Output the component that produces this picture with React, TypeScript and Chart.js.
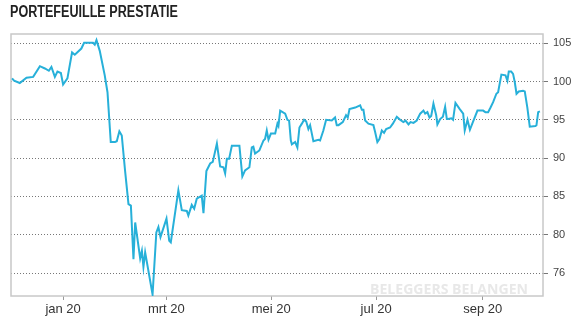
import React, { useEffect, useRef } from "react";
import { Chart, registerables } from "chart.js";

Chart.register(...registerables);

const titleText = "PORTEFEUILLE PRESTATIE";
const watermarkText = "BELEGGERS BELANGEN";

// x = days since 1 Jan 2020
const days = [
  -29.7, -28.5, -25.2, -21.3, -17.4, -13.5, -10.6, -8.3, -6.8, -4.8, -3.3, -1.3, 0, 2.5, 5.2, 6.8, 10.6, 12.2, 17.4, 18.4,
  19.4, 21.3, 24.2, 25.8, 27.7, 30.2, 31.2, 32.7, 34.1, 36.0, 38.0, 39.4, 40.9, 41.9, 44.8, 45.8, 46.7, 47.7, 52.0, 54.2,
  55.4, 56.6, 60.1, 61.7, 62.6, 67.0, 69.0, 71.9, 72.8, 74.8, 76.2, 77.7, 80.6, 81.6, 83.3, 85.5, 87.0, 89.4, 91.3, 93.2,
  94.2, 95.2, 96.5, 98.1, 102.5, 104.2, 105.8, 108.3, 109.7, 110.6, 111.6, 114.1, 116.5, 117.4, 118.4, 119.4, 120.8, 123.3, 124.6, 125.2,
  126.2, 129.1, 130.4, 131.4, 132.4, 133.0, 134.9, 136.2, 137.4, 138.8, 140.1, 141.3, 142.6, 143.6, 145.5, 148.4, 149.4, 151.3, 152.9, 156.2,
  158.1, 159.1, 160.1, 162.6, 164.5, 165.5, 166.5, 169.8, 172.7, 173.7, 174.6, 175.6, 177.5, 180.4, 181.4, 182.7, 183.9, 185.3, 186.6, 187.8,
  190.1, 191.7, 194.0, 195.9, 197.8, 199.1, 200.8, 202.0, 203.7, 205.6, 207.6, 209.5, 210.5, 211.8, 213.0, 214.0, 215.3, 216.9, 217.6, 219.2,
  220.8, 222.1, 223.1, 223.8, 225.7, 226.7, 228.1, 230.6, 232.6, 233.5, 235.1, 236.5, 238.4, 240.9, 244.2, 245.5, 247.1, 248.5, 250.0, 251.9,
  252.9, 254.8, 257.2, 258.3, 259.1, 260.5, 261.6, 262.6, 263.6, 264.9, 267.4, 268.4, 269.9, 271.3, 274.6, 275.2, 276.2, 277.2,
];

const values = [
  100.4, 100.1, 99.8, 100.5, 100.6, 102.0, 101.7, 101.4, 101.9, 100.6, 101.3, 101.1, 99.6, 100.4, 103.8, 103.5, 104.3, 105.05, 105.05, 104.8,
  105.4, 104.0, 100.8, 98.6, 92.1, 92.1, 92.2, 93.5, 92.95, 88.4, 84.0, 83.8, 76.8, 81.6, 76.9, 77.9, 75.8, 77.7, 72.2, 80.3,
  81.0, 79.7, 82.1, 79.2, 79.0, 85.8, 83.2, 83.1, 82.5, 83.9, 83.4, 84.7, 85.1, 82.8, 88.3, 89.3, 89.5, 91.9, 88.9, 88.8,
  88.0, 89.9, 89.9, 91.6, 91.6, 87.6, 88.4, 88.8, 91.4, 91.5, 90.6, 91.0, 92.3, 92.5, 93.6, 92.4, 93.2, 93.2, 94.5, 94.2,
  96.2, 95.8, 95.0, 94.9, 92.3, 91.8, 92.1, 91.4, 94.0, 94.5, 95.0, 94.8, 93.8, 94.3, 92.2, 92.4, 92.3, 93.6, 95.0, 94.9,
  95.3, 94.3, 94.3, 94.7, 95.6, 95.3, 96.4, 96.6, 96.9, 96.3, 96.3, 94.9, 94.5, 94.3, 93.4, 92.1, 92.5, 93.6, 93.3, 93.8,
  94.0, 94.5, 95.4, 95.0, 94.7, 94.9, 94.4, 94.7, 94.6, 94.9, 95.8, 96.2, 95.8, 96.0, 95.3, 95.5, 97.1, 95.6, 94.4, 95.1,
  95.4, 96.7, 95.1, 95.1, 95.2, 95.0, 97.2, 96.4, 95.8, 93.6, 95.0, 93.7, 94.8, 96.2, 96.2, 96.0, 96.0, 96.6, 97.3, 98.4,
  98.6, 100.9, 100.8, 100.1, 101.3, 101.3, 101.0, 99.9, 98.4, 98.7, 98.8, 98.7, 96.6, 94.1, 94.2, 94.3, 96.0, 96.1,
];

const xTickDays = [0, 60, 121, 182, 244];
const xTickLabels = ["jan 20", "mrt 20", "mei 20", "jul 20", "sep 20"];
const yTickValues = [75, 80, 85, 90, 95, 100, 105];
const yTickLabels = ["76", "80", "85", "90", "95", "100", "105"];

function fitText(ctx: CanvasRenderingContext2D, text: string, x: number, y: number, width: number) {
  const w = ctx.measureText(text).width;
  const s = w > 0 ? width / w : 1;
  ctx.save();
  ctx.translate(x, y);
  ctx.scale(s, 1);
  ctx.fillText(text, 0, 0);
  ctx.restore();
}

export default function App() {
  const ref = useRef<HTMLCanvasElement | null>(null);

  useEffect(() => {
    if (!ref.current) return;
    const points = days.map((d, i) => ({ x: d, y: values[i] }));

    const decor = {
      id: "decor",
      beforeDatasetsDraw(chart: any) {
        const { ctx, chartArea } = chart;
        ctx.save();
        ctx.font = "bold 14px 'Open Sans', 'Liberation Sans', Arial, sans-serif";
        ctx.fillStyle = "#e8e8e8";
        ctx.textBaseline = "alphabetic";
        ctx.textAlign = "left";
        fitText(ctx, watermarkText, 370, 294, 158);
        ctx.strokeStyle = "#c8c8c8";
        ctx.lineWidth = 1.5;
        ctx.strokeRect(chartArea.left, chartArea.top, chartArea.right - chartArea.left, chartArea.bottom - chartArea.top);
        ctx.restore();
      },
      afterDraw(chart: any) {
        const { ctx } = chart;
        ctx.save();
        ctx.font = "bold 16px 'Liberation Sans', Arial, sans-serif";
        ctx.fillStyle = "#222";
        ctx.textAlign = "left";
        ctx.textBaseline = "alphabetic";
        fitText(ctx, titleText, 10, 17, 168);
        ctx.restore();
      },
    };

    const chart = new Chart(ref.current, {
      type: "line",
      data: {
        datasets: [
          {
            data: points,
            borderColor: "#27b0d9",
            borderWidth: 2,
            pointRadius: 0,
            tension: 0,
            fill: false,
          },
        ],
      },
      options: {
        animation: false,
        responsive: false,
        maintainAspectRatio: false,
        layout: { padding: { left: 11, top: 34, right: 0, bottom: 0 } },
        plugins: { legend: { display: false }, tooltip: { enabled: false }, title: { display: false } },
        scales: {
          x: {
            type: "linear",
            min: -30.3,
            max: 279,
            afterBuildTicks: (scale: any) => {
              scale.ticks = xTickDays.map((v) => ({ value: v }));
            },
            afterFit: (scale: any) => {
              scale.height = 24;
            },
            grid: { drawOnChartArea: false, drawTicks: true, tickLength: 4, color: "#999" },
            border: { display: false },
            ticks: {
              autoSkip: false,
              maxRotation: 0,
              padding: 2,
              color: "#333",
              font: { size: 13, family: "'Liberation Sans', Arial, sans-serif" },
              callback: (_v: any, i: number) => xTickLabels[i],
            },
          },
          y: {
            position: "right",
            min: 72,
            max: 106.2,
            afterBuildTicks: (scale: any) => {
              scale.ticks = yTickValues.map((v) => ({ value: v }));
            },
            afterFit: (scale: any) => {
              scale.width = 32;
            },
            grid: { color: "#777", lineWidth: 1, drawTicks: true, tickLength: 5 },
            border: { display: false, dash: [1, 2] },
            ticks: {
              padding: 5,
              color: "#444",
              font: { size: 11, family: "'Liberation Sans', Arial, sans-serif" },
              callback: (_v: any, i: number) => yTickLabels[i],
            },
          },
        },
      },
      plugins: [decor],
    } as any);

    return () => chart.destroy();
  }, []);

  return (
    <div style={{ position: "absolute", left: 0, top: 0, width: 575, height: 320, background: "#fff" }}>
      <canvas ref={ref} width={575} height={320} style={{ display: "block", width: 575, height: 320 }} />
    </div>
  );
}
